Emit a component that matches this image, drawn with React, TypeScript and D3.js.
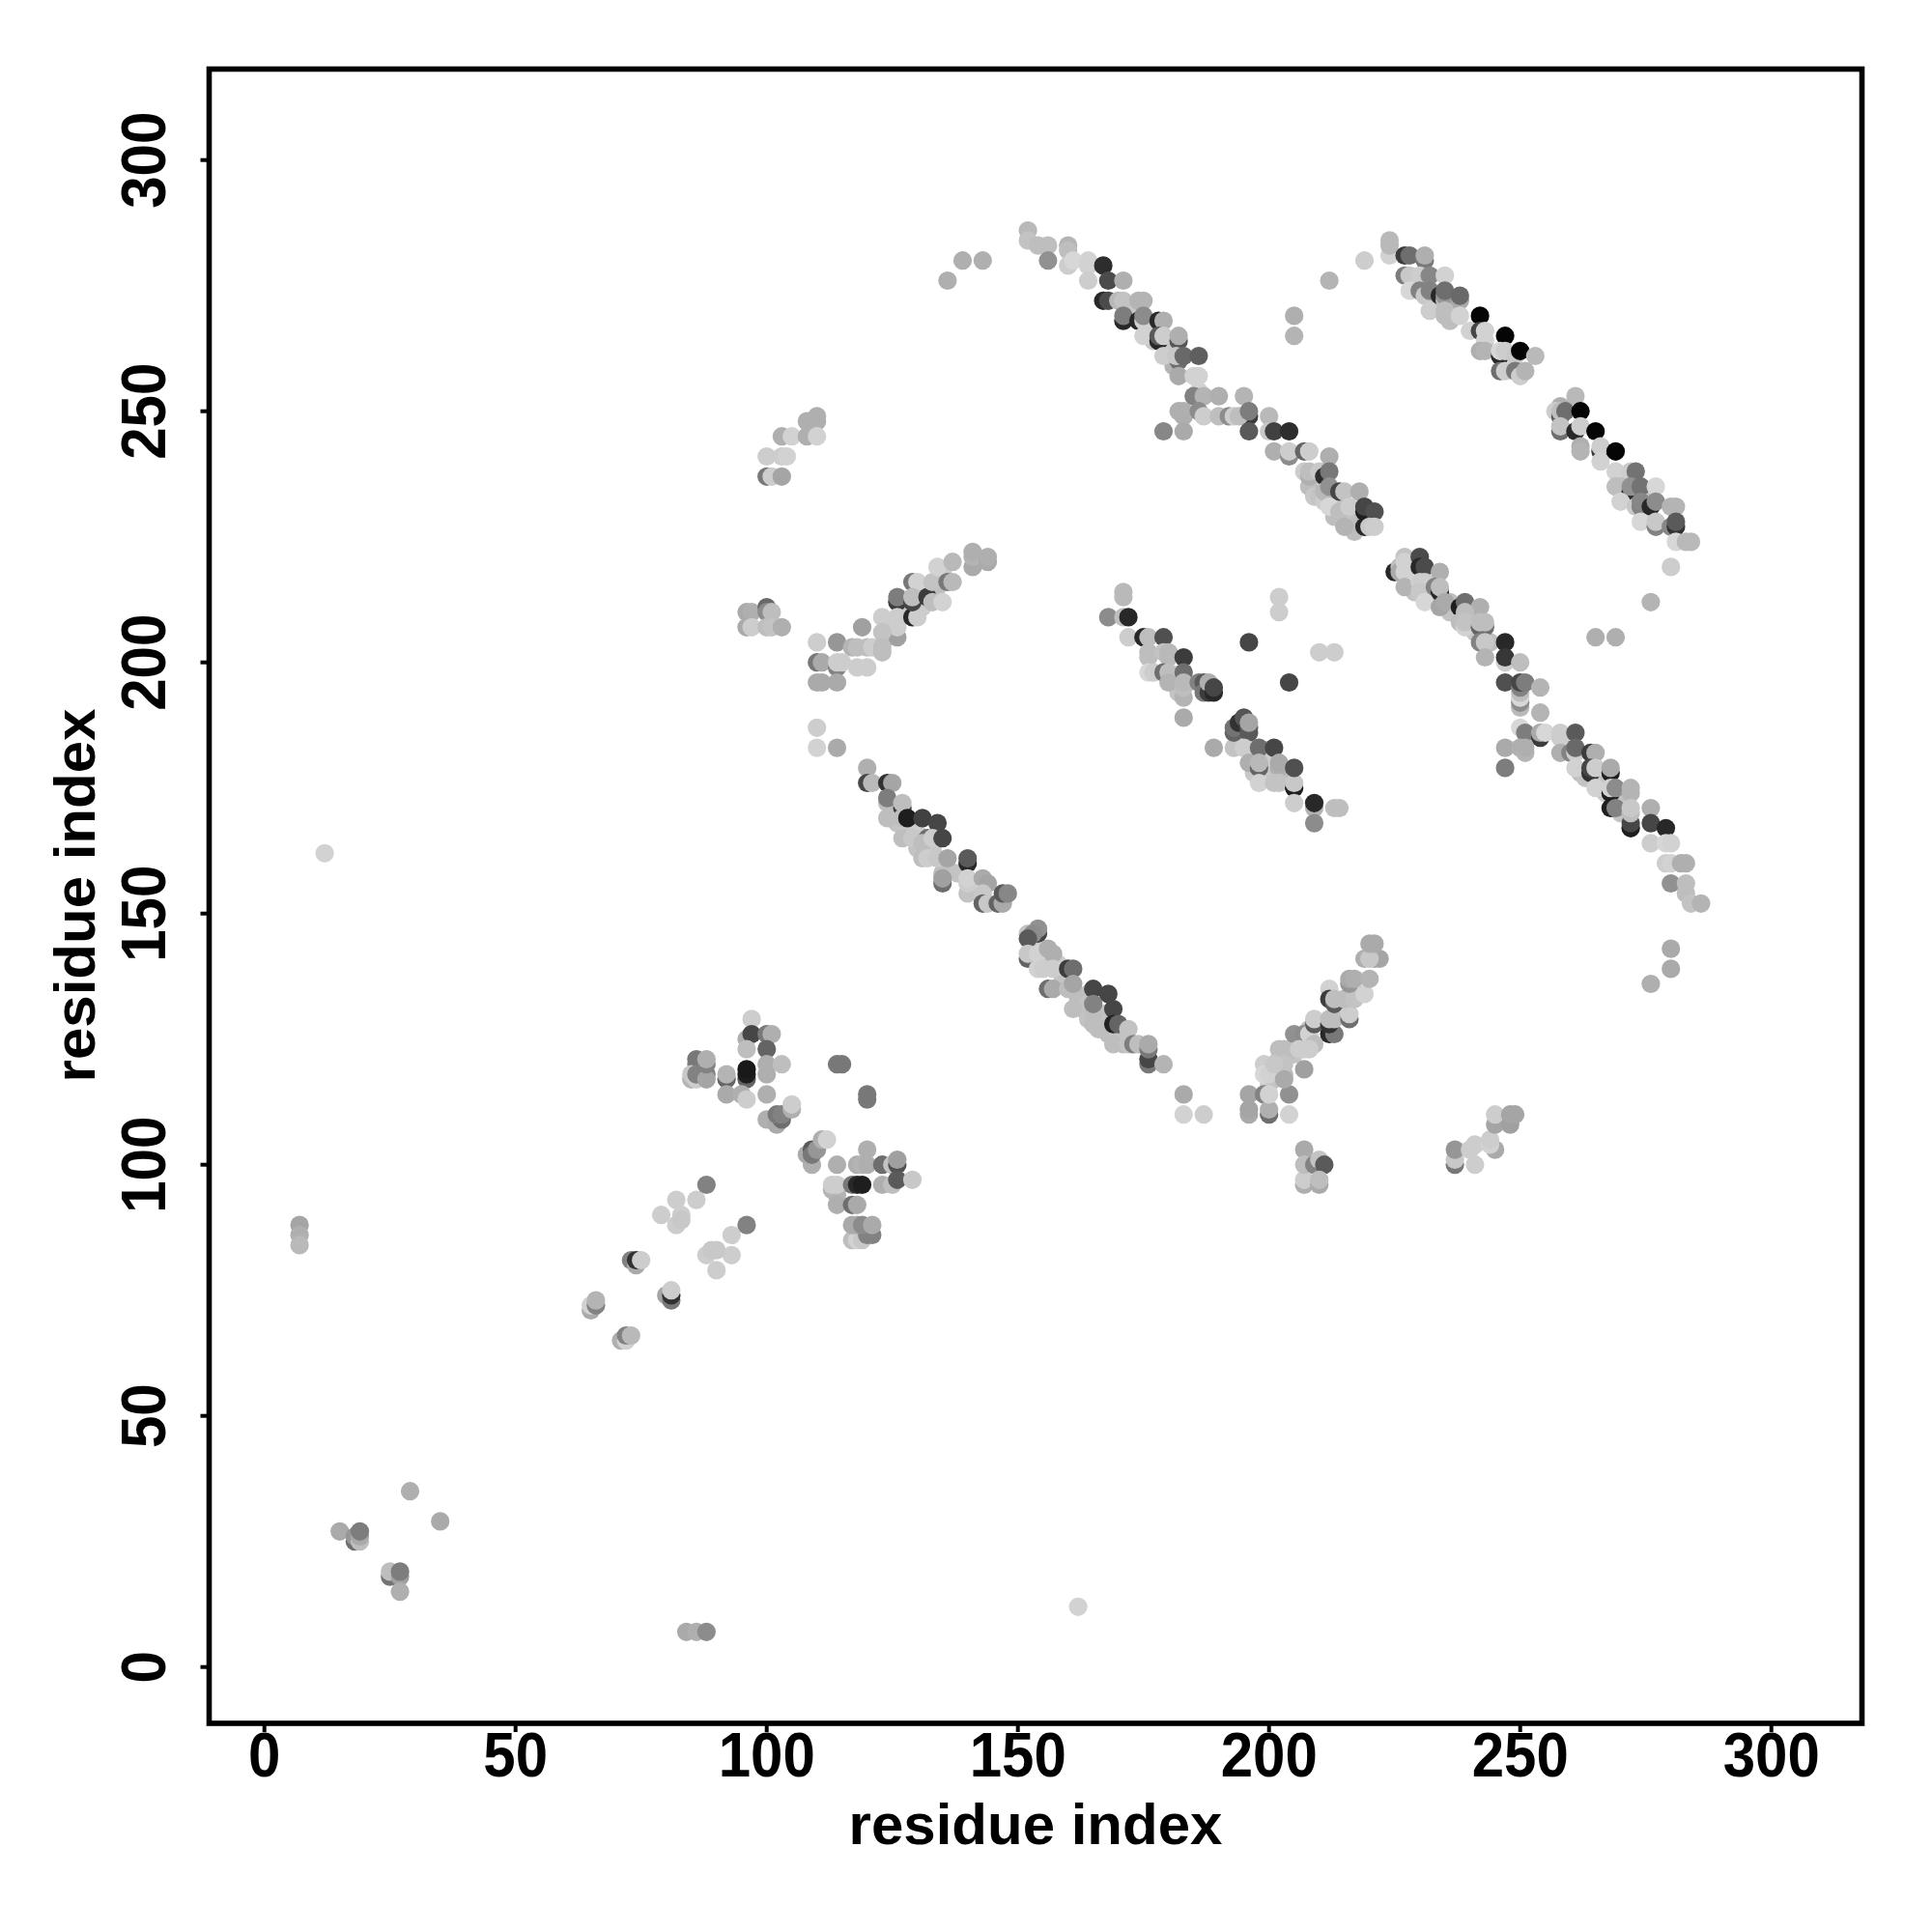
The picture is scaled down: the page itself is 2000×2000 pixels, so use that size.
import React from "react";
import * as d3 from "d3";

type Contact = [number, number, number];

const xTicks = [0, 50, 100, 150, 200, 250, 300];
const yTicks = [0, 50, 100, 150, 200, 250, 300];
const xLabel = "residue index";
const yLabel = "residue index";

const topBandA: Contact[] = [
  [136,276,175],[139,280,175],[143,280,175],[152,286,185],[152,284,195],[154,283,190],[156,283,190],[156,280,145],
  [160,283,180],[160,282,190],[160,279,205],[161,280,215],[164,280,210],[164,279,210],[164,276,205],
  [167,279,45],[168,276,75],[171,276,175],[167,272,40],[168,272,75],[170,272,185],[171,272,195],[174,272,180],[175,272,180],
  [171,268,40],[171,269,125],[174,268,40],[175,268,210],[175,269,140],[178,268,40],[179,268,175],[175,265,210],
  [178,264,40],[178,265,90],[179,265,205],[182,264,85],[182,265,175],[179,261,205],[182,260,110],[181.5,261,200],[183,261,105],[186,261,95],
  [182,257,170],[185,257,210],[186,257,210],[186,254,210],[185,253,130],[187,253,180],[190,253,175],[195,253,180],
  [182,250,175],[183,250,175],[183,249,175],[186,250,140],[187,249,205],[179,246,135],[183,246,170],
  [190,249,190],[192,249,140],[193,249,205],[196,249,60],[194,249,190],[196,250,125],[196,246,90],[200,249,185],[200,246,200],[201,246,65],[204,246,45],
  [201,242,175],[204,241,140],[204,242,205],[207,242,100],[208,242,205],[212,241,175],[207,238,205],[208,237,175],[208,238,190],[210,238,200],
  [211,237,45],[212,238,120],[211,234,185],[212,235,145],[214,234,70],[215,234,195],[218,234,175],[212,231,215],[214,230,190],[216,231,205],
  [215,227,180],[219,227,40],[219,230,30],[219,231,70],[221,230,80],[220,227,200],[221,227,205],
];

const topBandB: Contact[] = [
  [205,269,175],[205,265,180],[212,276,180],[219,280,205],[224,281,210],[224,283,185],[224,284,185],[227,281,60],[228,281,110],[231,280,120],[231,281,175],
  [227,277,125],[228,277,200],[228,274,215],[230,277,205],[232,277,135],[235,277,210],[230,274,130],[231,273,200],[232,274,130],[234,273,40],[235,272,185],[235,273,150],[235,274,110],
  [238,272,170],[238,273,105],[232,270,205],[235,270,190],[235,269,190],[238,269,210],[242,269,5],[240,266,210],[242,266,70],[243,266,210],[247,265,5],[243,264,210],
  [242,262,175],[243,262,180],[246,261,40],[246,262,215],[247,262,205],[249,261,200],[250,262,5],[253,261,185],[246,258,110],[247,258,205],[249,258,120],[250,257,205],[251,258,180],
  [261,253,185],[258,251,175],[257,250,205],[258,249,90],[258,250,190],[259,250,110],[262,250,5],[258,246,110],[258,247,195],[261,246,40],[262,247,205],[265,246,5],
  [262,243,175],[262,242,180],[266,242,60],[266,243,205],[266,240,210],[269,242,5],[269,238,210],[272,238,205],[273,238,115],[269,235,190],[270,235,190],[272,234,40],[272,235,145],[274,235,115],[277,235,215],
  [270,232,210],[273,231,200],[274,231,130],[274,232,135],[276,231,40],[277,232,140],[280,231,180],[281,231,180],[274,228,215],[277,227,130],[277,228,200],[280,227,135],[281,227,50],[281,228,90],
  [281,224,215],[283,224,185],[284,224,185],[280,219,205],
];

const midBandC: Contact[] = [
  [276,212,180],[265,205,175],[269,205,175],[225,218,40],[226,219,190],[226,218,170],[227,221,195],[227,218,210],[227,220,210],[230,221,75],[230,219,40],[231,219,75],[234,218,175],
  [227,215,180],[230,216,205],[231,216,205],[230,214,200],[233,215,130],[234,214,40],[234,215,190],[231,212,215],[234,211,165],[235,212,170],[238,211,30],[239,212,110],[242,211,175],[239,210,190],
  [238,208,190],[239,207,210],[239,208,195],[242,207,100],[243,207,110],[242,208,190],[243,208,190],[242,204,130],[243,204,200],[243,201,180],[247,200,205],[247,204,40],[247,201,55],[250,200,190],
  [247,196,80],[250,191,185],[250,192,140],[250,193,215],[250,194,190],[250,195,130],[250,196,70],[251,196,125],[254,195,180],[254,190,180],[250,187,215],[251,186,125],[254,185,60],[254,186,170],[255,186,215],[258,185,205],[258,186,205],[261,186,90],
  [247,183,170],[250,183,175],[251,182,180],[251,183,175],[247,179,125],[258,182,175],[260,182,130],[261,182,205],[261,183,105],[264,182,60],[265,182,175],
  [261,179,210],[264,178,50],[264,179,70],[265,179,205],[268,178,30],[268,179,170],[265,175,210],[268,174,30],[268,175,210],[269,175,140],[272,174,180],[272,175,180],
  [268,171,30],[269,171,130],[272,167,30],[272,168,70],[272,170,190],[272,171,200],[276,171,175],[276,164,205],[276,168,70],[279,167,40],[279,164,215],[280,164,210],
  [279,160,205],[280,160,210],[282,160,175],[283,160,175],[280,156,145],[283,156,190],[283,154,190],[284,152,195],[286,152,180],[280,143,170],[280,139,170],[276,136,175],
];

const midBandD: Contact[] = [
  [171,214,185],[171,213,185],[168,209,140],[171,209,190],[172,209,40],[172,205,205],[175,205,40],[176,205,190],[179,205,80],[176,202,190],[176,201,190],[179,202,195],[180,201,185],[180,202,185],[183,201,60],
  [176,198,215],[177,198,205],[179,198,110],[180,198,190],[183,198,110],[180,196,180],[183,193,180],[183,195,190],[183,196,185],[186,196,130],[187,196,90],[187,194,120],[188,194,60],[188,196,175],[189,194,40],[189,195,70],
  [183,189,170],[196,204,70],[204,196,70],[202,213,205],[202,210,205],[210,202,205],[213,202,205],[189,183,170],[193,183,195],[193,186,100],[193,187,115],[194,188,50],[195,189,85],[196,186,90],[196,187,90],[196,188,165],
  [195,183,205],[196,180,175],[198,183,110],[201,183,70],[198,179,100],[198,180,185],[202,179,175],[202,180,170],[198,176,210],[201,176,195],[202,176,195],[205,175,30],[205,176,200],[205,179,80],
  [205,172,205],[209,171,180],[209,172,40],[213,171,190],[214,171,190],[209,168,140],
];

const upperRamp: Contact[] = [
  [110,249,175],[108,248,175],[110,248,175],[103,245,175],[105,245,210],[108,245,175],[110,245,210],[100,241,205],[103,241,205],[104,241,210],[100,237,120],[101,237,205],[103,237,165],
  [96,210,170],[97,210,175],[100,211,105],[100,210,140],[101,210,190],[96,207,170],[97,207,205],[100,207,190],[101,207,195],[103,207,175],
  [110,204,205],[114,204,150],[117,203,180],[118,203,190],[119,207,160],[120,203,190],[121,203,205],[110,200,120],[111,200,170],[114,199,130],[114,200,205],[115,200,205],[110,196,170],[111,196,170],[114,196,170],[118,199,205],[120,199,205],
  [126,205,160],[126,208,110],[126,207,205],[123,209,205],[123,206,195],[123,203,190],[123,202,190],[126,212,60],[126,213,125],[126,209,205],[129,216,120],[130,216,210],[129,209,40],[130,209,205],[129,212,70],[129,213,190],
  [132,213,60],[133,212,190],[133,216,195],[134,219,210],[137,220,185],[136,216,120],[137,216,185],[135,212,210],[141,219,170],[141,221,180],[141,222,175],[144,220,170],[144,221,175],
  [110,187,205],[110,183,210],[114,183,170],
];

const lowerBand: Contact[] = [
  [120,179,175],[120,176,70],[121,176,185],[124,176,50],[125,176,165],[124,172,190],[124,173,125],[127,171,60],[127,172,190],[124,169,190],[127,169,190],[128,169,30],[131,169,65],[134,168,70],
  [127,165,190],[129,165,200],[132,165,110],[131,164,190],[133,165,205],[135,165,70],[131,161,190],[132,161,205],[134,161,200],[136,161,165],[140,160,40],[140,161,90],
  [135,156,110],[135,157,160],[140,154,195],[140,156,205],[140,157,210],[143,157,170],[144,156,165],[143,154,200],[143,152,100],[144,152,200],[146,152,100],[147,152,170],[147,154,90],[148,154,135],
  [154,146,70],[154,147,145],[152,146,195],[153,146,140],[152,145,90],[152,141,100],[152,142,200],[154,142,210],[156,143,175],[157,142,175],[154,139,210],[155,139,205],[157,139,205],[160,139,60],[161,139,110],
  [156,135,110],[157,135,170],[160,135,190],[161,135,190],[161,136,165],[165,135,70],[168,134,70],[161,131,190],[165,128,190],[165,130,190],[165,132,130],[169,131,70],[169,128,35],[170,128,100],[172,127,195],
  [169,124,190],[172,124,195],[173,124,125],[174,124,190],[176,120,120],[176,121,70],[176,123,120],[176,124,170],[179,120,180],[183,114,170],[183,110,210],[187,110,205],
];

const lowerRamp: Contact[] = [
  [196,110,170],[196,111,165],[196,114,165],[199,114,130],[200,110,110],[200,111,175],[200,114,210],[204,114,145],[204,110,210],[199,120,205],[199,118,215],[200,118,210],
  [202,123,190],[203,123,190],[203,120,195],[203,117,170],[201,120,200],[207,119,160],[205,126,145],[207,126,140],[208,126,210],[209,128,90],[209,129,205],[209,124,190],[208,123,205],[206,123,205],
  [212,135,210],[212,126,40],[213,126,120],[212,128,50],[212,129,190],[213,129,190],[212,133,60],[213,132,90],[213,133,190],[216,129,110],[216,130,205],[215,133,190],[217,133,195],[219,134,210],
  [216,136,150],[216,137,170],[217,137,175],[220,137,180],[219,141,175],[221,141,165],[222,141,165],[220,141,200],[220,144,170],[221,144,170],
  [207,103,170],[207,96,175],[207,97,205],[207,100,190],[209,100,130],[210,101,195],[211,100,90],[210,96,170],[210,97,190],
  [237,100,120],[237,101,200],[237,103,150],[240,103,205],[241,104,205],[241,100,205],[245,103,170],[244,104,210],[244,105,205],[245,108,165],[245,110,205],[248,108,160],[248,110,165],[249,110,165],
];

const betaCluster: Contact[] = [
  [97,129,205],[96,125,175],[97,126,70],[100,126,120],[101,126,175],[96,123,190],[100,123,100],[100,118,175],[100,120,175],[103,120,190],[96,117,100],[96,118,30],[96,119,25],
  [92,117,100],[92,118,180],[86,120,130],[86,121,120],[85,117,180],[85,118,200],[86,117,205],[86,118,130],[87,118,130],[88,118,130],[88,117,165],[88,120,130],[88,121,175],
  [92,114,170],[95,114,175],[96,113,205],[100,114,175],[100,109,175],[102,108,170],[103,109,110],[102,110,120],[103,110,130],[105,111,175],[105,112,205],
  [109,100,175],[108,102,170],[109,103,90],[109,102,120],[110,103,150],[111,105,175],[112,105,210],[114,120,120],[115,120,120],[120,113,120],[120,114,120],
  [114,100,175],[118,100,175],[119,100,180],[120,103,175],[120,100,175],[123,100,110],[125,100,195],[126,100,80],[126,101,160],
  [113,95,180],[114,94,180],[113,96,205],[114,96,205],[117,96,120],[118,96,40],[119,96,30],[123,96,175],[125,96,190],[126,97,90],[129,97,200],
  [114,92,175],[117,92,110],[118,92,170],[117,85,190],[118,85,210],[119,85,200],[120,86,130],[121,86,130],[117,88,170],[118,88,170],[119,88,140],[121,88,170],
];

const scatterLow: Contact[] = [
  [88,96,130],[86,93,205],[82,93,205],[79,90,205],[83,90,205],[82,88,205],[83,89,200],[96,88,130],[93,86,205],[93,82,205],[88,82,205],[89,83,200],[90,83,200],[90,79,205],
  [73,81,130],[74,80,170],[74,81,50],[75,81,205],[80,74,165],[81,73,120],[81,74,50],[81,75,205],[65,71,170],[65,72,210],[66,72,130],[66,73,180],[71,65,175],[72,65,210],[72,66,130],[73,66,185],
];

const scatterFar: Contact[] = [
  [7,88,165],[7,86,175],[7,84,185],[12,162,210],[15,27,170],[18,25,110],[18,26,150],[19,25,190],[19,26,170],[19,27,125],[29,35,175],[35,29,170],
  [25,18,115],[25,19,190],[27,18,160],[27,19,125],[27,15,175],[84,7,170],[86,7,175],[88,7,140],[162,12,210],
];

// light contacts that sit underneath the dense stretches of each band
const denseFill: Contact[] = [
  [163,133,190],[164,134,195],[163,131,190],[164,129,195],[167,130,195],[167,127,190],[168,126,190],[166,127,190],[168,127,190],[170,126,200],[170,125,195],[171,124,190],[171,125,195],
  [208,235,190],[209,233,200],[210,233,195],[211,232,205],[213,232,195],[213,231,200],[213,229,190],[215,229,195],[216,228,200],[217,229,195],[218,228,190],[217,226,190],
  [124,205,195],[125,207,200],[127,210,190],[128,211,200],[131,214,195],[131,211,205],[132,215,195],[134,215,190],[135,218,200],
  [200,116,205],[201,117,195],[202,121,195],[203,118,190],[204,122,190],[205,122,195],[205,123,190],[206,124,195],[207,123,205],[208,127,195],
  [125,170,195],[126,168,195],[128,167,200],[130,166,205],[130,163,195],[133,163,200],[135,158,190],[136,159,190],[138,158,195],
  [236,210,195],[240,209,195],[241,206,200],[244,204,190],[262,178,190],[263,177,195],[266,176,195],[267,174,205],[270,173,195],[271,173,195],[270,170,195],
  [229,214,195],[232,214,205],[233,213,190],[236,212,190],
  [181,197,195],[182,194,195],[197,182,205],[197,178,200],[199,178,200],[200,181,205],[203,178,190],
  [233,271,195],[236,271,190],[236,268,190],[271,236,195],[273,233,205],[275,233,195],[275,230,200],
  [153,143,205],[155,141,195],[158,140,205],[159,137,195],[162,133,190],[164,132,195],
  [173,270,200],[176,266,205],[177,264,200],[180,263,200],[181,259,180],
];

const contacts: Contact[] = [
  ...denseFill, ...scatterFar, ...scatterLow, ...betaCluster, ...upperRamp, ...lowerRamp, ...lowerBand, ...midBandD, ...midBandC, ...topBandB, ...topBandA,
];

const FONT = '"Liberation Sans", Arial, Helvetica, sans-serif';

export default function App() {
  const x = d3.scaleLinear().domain([0, 300]).range([273.7, 1833.7]);
  const y = d3.scaleLinear().domain([0, 300]).range([1725.7, 165.7]);
  const frame = { left: 216.5, right: 1927.5, top: 71.5, bottom: 1784 };
  return (
    <svg width={2000} height={2000} viewBox="0 0 2000 2000"
      style={{ position: "absolute", left: 0, top: 0, background: "#fff" }}>
      <g>
        {contacts.map(([cx, cy, g], i) => (
          <circle key={i} cx={x(cx)} cy={y(cy)} r={9.6} fill={d3.rgb(g, g, g).formatHex()} />
        ))}
      </g>
      <rect x={frame.left} y={frame.top} width={frame.right - frame.left} height={frame.bottom - frame.top}
        fill="none" stroke="#000" strokeWidth={5.6} />
      {xTicks.map((t) => (
        <g key={t}>
          <line x1={x(t)} x2={x(t)} y1={frame.bottom} y2={frame.bottom + 9} stroke="#000" strokeWidth={4} />
          <text transform={`translate(${x(t)},1839) scale(1,1.07)`} textAnchor="middle" fontFamily={FONT} fontWeight="bold" fontSize={60}>{t}</text>
        </g>
      ))}
      {yTicks.map((t) => (
        <g key={t}>
          <line x1={frame.left} x2={frame.left - 9} y1={y(t)} y2={y(t)} stroke="#000" strokeWidth={4} />
          <text transform={`translate(171,${y(t)}) rotate(-90) scale(1,1.07)`} textAnchor="middle" fontFamily={FONT} fontWeight="bold" fontSize={60}>{t}</text>
        </g>
      ))}
      <text x={1072} y={1909} textAnchor="middle" fontFamily={FONT} fontWeight="bold" fontSize={60}>{xLabel}</text>
      <text transform="translate(98,927) rotate(-90)" textAnchor="middle" fontFamily={FONT} fontWeight="bold" fontSize={60}>{yLabel}</text>
    </svg>
  );
}
